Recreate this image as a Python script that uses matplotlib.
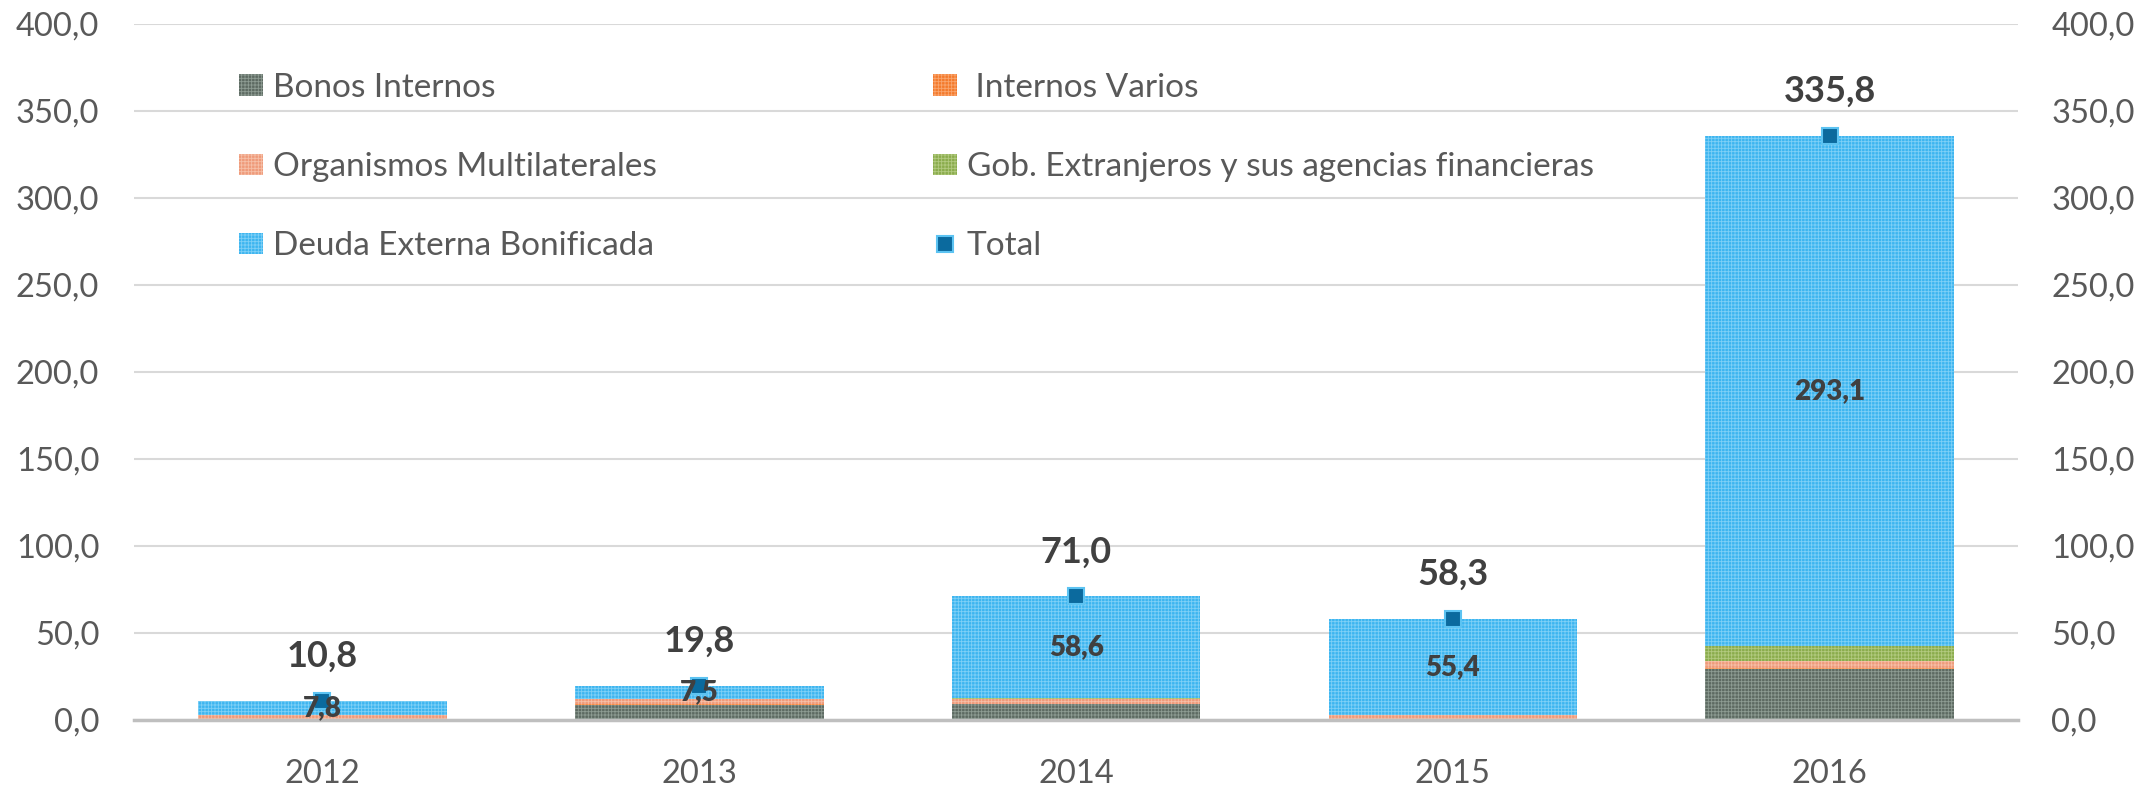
import numpy as np
import matplotlib
matplotlib.use("Agg")
import matplotlib.pyplot as plt

plt.rcParams['font.family'] = ['Lato', 'DejaVu Sans']
plt.rcParams['hatch.linewidth'] = 0.6

years = ['2012', '2013', '2014', '2015', '2016']
bonos_internos = [0.0, 8.7, 9.2, 0.0, 29.5]
internos_varios = [0.4, 0.3, 0.2, 0.2, 0.5]
organismos = [2.6, 2.8, 2.7, 2.5, 4.0]
gob_extranjeros = [0.0, 0.5, 0.3, 0.2, 8.7]
deuda_externa = [7.8, 7.5, 58.6, 55.4, 293.1]
total = [10.8, 19.8, 71.0, 58.3, 335.8]

series_names = ['Bonos Internos', ' Internos Varios', 'Organismos Multilaterales',
                'Gob. Extranjeros y sus agencias financieras', 'Deuda Externa Bonificada']
face_colors = ['#5d6a62', '#f47a2c', '#ef9a7a', '#8aac4c', '#3db5f0']
hatch_colors = ['#8e9c93', '#f9a66f', '#f6c0a8', '#b2ca80', '#7fd0f6']

text_grey = '#595959'
label_dark = '#404040'

fig = plt.figure(figsize=(21.52, 7.86), dpi=100)
ax = fig.add_axes([0.0623, 0.084, 0.8755, 0.8855])

x = np.arange(len(years))
bar_w = 0.66
bottom = np.zeros(len(years))
bar_handles = []
for vals, name, fc, hc in zip([bonos_internos, internos_varios, organismos, gob_extranjeros, deuda_externa],
                              series_names, face_colors, hatch_colors):
    b = ax.bar(x, vals, bar_w, bottom=bottom, color=fc, edgecolor=hc, hatch='+++++',
               linewidth=0, label=name, zorder=2)
    bar_handles.append(b)
    bottom = bottom + np.array(vals)

# labels inside the blue segment
deb_bottom = bottom - np.array(deuda_externa)
for xi, b0, v in zip(x, deb_bottom, deuda_externa):
    ax.text(xi, b0 + v / 2, f"{v:.1f}".replace('.', ','), ha='center', va='center',
            fontsize=20, fontweight='heavy', color=label_dark, zorder=4)

tot_line, = ax.plot(x, total, linestyle='none', marker='s', markersize=11,
                    markerfacecolor='#0b6a9e', markeredgecolor='#5cc3f2', markeredgewidth=1.5,
                    label='Total', zorder=3)
for xi, t in zip(x, total):
    ax.annotate(f"{t:.1f}".replace('.', ','), (xi, t), xytext=(0, 32), textcoords='offset points',
                ha='center', va='center', fontsize=26, fontweight='bold', color=label_dark)

ax.set_xlim(-0.5, len(years) - 0.5)
ax.set_ylim(0, 400)
yticks = np.arange(0, 401, 50)
ax.set_yticks(yticks)
ax.set_yticklabels([f"{v:.1f}".replace('.', ',') for v in yticks])
ax.set_xticks(x)
ax.set_xticklabels(years)
ax.tick_params(axis='y', length=0, pad=25, labelsize=23.5, labelcolor=text_grey)
ax.tick_params(axis='x', length=0, pad=28, labelsize=23.5, labelcolor=text_grey)
ax.grid(axis='y', color='#d9d9d9', linewidth=1.5, zorder=0)
ax.set_axisbelow(True)
for s in ['top', 'right', 'left']:
    ax.spines[s].set_visible(False)
ax.spines['bottom'].set_color('#bfbfbf')
ax.spines['bottom'].set_linewidth(2.5)

ax2 = ax.twinx()
ax2.set_ylim(0, 400)
ax2.set_yticks(yticks)
ax2.set_yticklabels([f"{v:.1f}".replace('.', ',') for v in yticks])
ax2.tick_params(axis='y', length=0, pad=24, labelsize=23.5, labelcolor=text_grey)
for s in ax2.spines.values():
    s.set_visible(False)

# legend: row-major order in two columns
handles = [bar_handles[0], bar_handles[2], bar_handles[4], bar_handles[1], bar_handles[3], tot_line]
labels = [series_names[0], series_names[2], series_names[4], series_names[1], series_names[3], 'Total']
leg = ax.legend(handles, labels, ncol=2, loc='upper left', bbox_to_anchor=(0.040, 0.973),
                frameon=False, fontsize=24, handlelength=0.7, handleheight=0.6, handletextpad=0.3,
                labelspacing=1.48, columnspacing=8.3, labelcolor=text_grey)

fig.savefig('out.png', dpi=100)
